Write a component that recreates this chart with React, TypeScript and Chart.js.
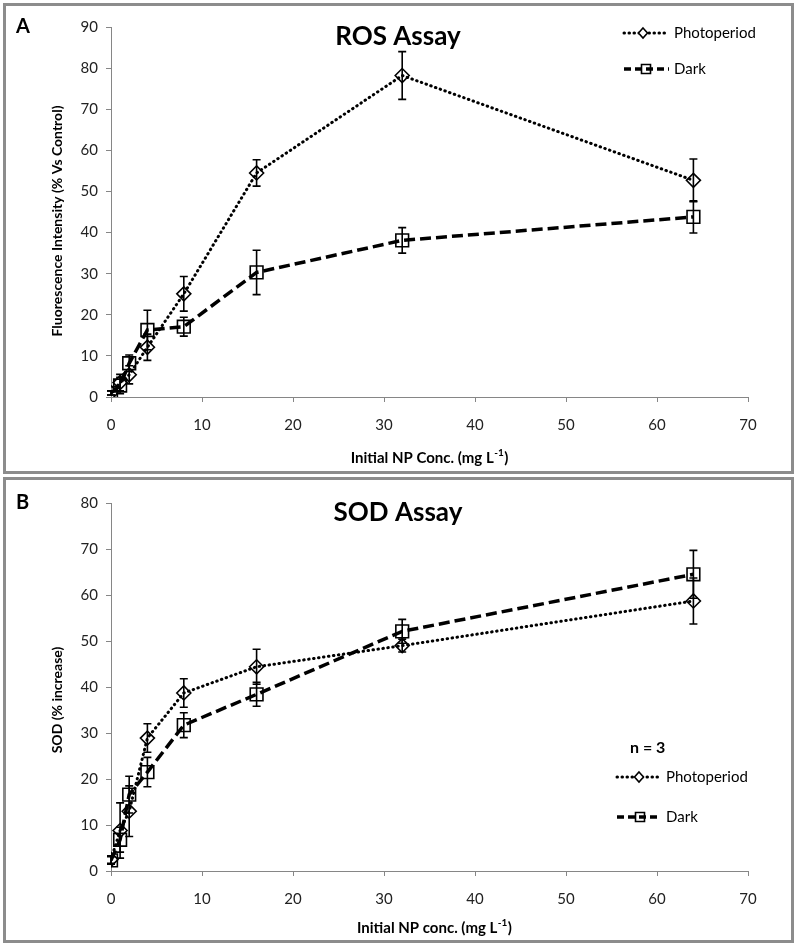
import React, { useEffect, useRef } from 'react';
import { Chart, registerables } from 'chart.js';

Chart.register(...registerables);

const FONT = 'Lato, "Open Sans", "DejaVu Sans", sans-serif';

// Concentrations (mg L-1)
const concentrations = [0, 1, 2, 4, 8, 16, 32, 64];

// Panel A – ROS assay (% vs control)
const rosPhoto = [1, 3.5, 5.4, 12.1, 25.1, 54.5, 78.2, 52.7];
const rosPhotoErr = [0.5, 2, 2.2, 3.2, 4.2, 3.2, 5.8, 5.2];
const rosDark = [1, 2.8, 8.2, 16.3, 17.1, 30.3, 38.1, 43.8];
const rosDarkErr = [0.5, 2, 2, 4.8, 2.3, 5.4, 3.1, 3.9];

// Panel B – SOD assay (% increase)
const sodPhoto = [2.5, 8.8, 13, 28.9, 38.7, 44.4, 49, 58.7];
const sodPhotoErr = [0.8, 6, 5.5, 3.1, 3.1, 3.8, 1.4, 5];
const sodDark = [2.3, 6.8, 16.6, 21.5, 31.7, 38.4, 52.1, 64.5];
const sodDarkErr = [0.8, 2.7, 4, 3.2, 2.7, 2.6, 2.6, 5.2];

const seriesLabels = ['Photoperiod', 'Dark'];

type LegendPos = { lineX1: number; lineX2: number; markerX: number; textX: number; y: number };

type PanelSpec = {
  letter: string;
  title: string;
  yTitle: string;
  xTitleMain: string;
  ymax: number;
  photo: number[];
  photoErr: number[];
  dark: number[];
  darkErr: number[];
  height: number;
  plotTop: number;
  letterY: number;
  titleBaseline: number;
  yTitleCenter: number;
  xTitleX: number;
  xTitleY: number;
  legend: LegendPos[];
  note?: { text: string; x: number; y: number };
};

const panels: PanelSpec[] = [
  {
    letter: 'A',
    title: 'ROS Assay',
    yTitle: 'Fluorescence Intensity (% Vs Control)',
    xTitleMain: 'Initial NP Conc. (mg L',
    ymax: 90,
    photo: rosPhoto,
    photoErr: rosPhotoErr,
    dark: rosDark,
    darkErr: rosDarkErr,
    height: 465,
    plotTop: 21,
    letterY: 21,
    titleBaseline: 39,
    yTitleCenter: 215,
    xTitleX: 423,
    xTitleY: 452,
    legend: [
      { lineX1: 618, lineX2: 662, markerX: 637, textX: 668, y: 27 },
      { lineX1: 618, lineX2: 663, markerX: 640, textX: 668, y: 63 },
    ],
  },
  {
    letter: 'B',
    title: 'SOD Assay',
    yTitle: 'SOD (% increase)',
    xTitleMain: 'Initial NP conc. (mg L',
    ymax: 80,
    photo: sodPhoto,
    photoErr: sodPhotoErr,
    dark: sodDark,
    darkErr: sodDarkErr,
    height: 460,
    plotTop: 23,
    letterY: 23,
    titleBaseline: 41,
    yTitleCenter: 220,
    xTitleX: 428,
    xTitleY: 448,
    legend: [
      { lineX1: 611, lineX2: 653, markerX: 633, textX: 660, y: 297 },
      { lineX1: 611, lineX2: 655, markerX: 634, textX: 660, y: 337 },
    ],
    note: { text: 'n = 3', x: 624, y: 268 },
  },
];

const CANVAS_W = 785;
const PLOT_LEFT = 105;
const PLOT_RIGHT = 742;
const PLOT_BOTTOM = 391;
const AXIS_COLOR = '#868686';
const BORDER_COLOR = '#8c8c8c';

function makeChart(canvas: HTMLCanvasElement, spec: PanelSpec) {
  const errorBars = {
    id: 'errorBars',
    afterDatasetsDraw(chart: any) {
      const ctx = chart.ctx as CanvasRenderingContext2D;
      const xs = chart.scales.x;
      const ys = chart.scales.y;
      const sets = [
        { v: spec.photo, e: spec.photoErr },
        { v: spec.dark, e: spec.darkErr },
      ];
      ctx.save();
      ctx.strokeStyle = '#000';
      ctx.lineWidth = 1.6;
      ctx.setLineDash([]);
      sets.forEach((s) => {
        s.v.forEach((v, i) => {
          const x = xs.getPixelForValue(concentrations[i]);
          const yT = ys.getPixelForValue(v + s.e[i]);
          const yB = ys.getPixelForValue(v - s.e[i]);
          ctx.beginPath();
          ctx.moveTo(x, yT);
          ctx.lineTo(x, yB);
          ctx.moveTo(x - 4, yT);
          ctx.lineTo(x + 4, yT);
          ctx.moveTo(x - 4, yB);
          ctx.lineTo(x + 4, yB);
          ctx.stroke();
        });
      });
      ctx.restore();
    },
  };

  const texts = {
    id: 'panelTexts',
    afterDraw(chart: any) {
      const ctx = chart.ctx as CanvasRenderingContext2D;
      ctx.save();
      ctx.fillStyle = '#000';
      // panel letter
      ctx.font = `bold 20px ${FONT}`;
      ctx.textAlign = 'left';
      ctx.textBaseline = 'middle';
      ctx.fillText(spec.letter, 10, spec.letterY);
      // chart title
      ctx.font = `bold 26px ${FONT}`;
      ctx.textAlign = 'center';
      ctx.textBaseline = 'alphabetic';
      ctx.fillText(spec.title, 392, spec.titleBaseline);
      // y title
      ctx.save();
      ctx.translate(51, spec.yTitleCenter);
      ctx.rotate(-Math.PI / 2);
      ctx.font = `bold 14px ${FONT}`;
      ctx.textAlign = 'center';
      ctx.textBaseline = 'middle';
      ctx.fillText(spec.yTitle, 0, 0);
      ctx.restore();
      // x title with superscript
      ctx.font = `bold 15px ${FONT}`;
      const mainW = ctx.measureText(spec.xTitleMain).width;
      ctx.font = `bold 10px ${FONT}`;
      const supW = ctx.measureText('-1').width;
      ctx.font = `bold 15px ${FONT}`;
      const tailW = ctx.measureText(')').width;
      const total = mainW + supW + tailW;
      const x0 = spec.xTitleX - total / 2;
      ctx.textAlign = 'left';
      ctx.textBaseline = 'middle';
      ctx.fillText(spec.xTitleMain, x0, spec.xTitleY);
      ctx.font = `bold 10px ${FONT}`;
      ctx.fillText('-1', x0 + mainW + 0.5, spec.xTitleY - 5);
      ctx.font = `bold 15px ${FONT}`;
      ctx.fillText(')', x0 + mainW + supW + 1, spec.xTitleY);
      // note
      if (spec.note) {
        ctx.font = `bold 16px ${FONT}`;
        ctx.fillText(spec.note.text, spec.note.x, spec.note.y);
      }
      // legend
      spec.legend.forEach((l, i) => {
        ctx.save();
        ctx.strokeStyle = '#000';
        if (i === 0) {
          ctx.lineWidth = 3;
          ctx.lineCap = 'round';
          ctx.setLineDash([0.5, 4.5]);
        } else {
          ctx.lineWidth = 3.5;
          ctx.lineCap = 'butt';
          ctx.setLineDash([7, 4]);
        }
        ctx.beginPath();
        ctx.moveTo(l.lineX1, l.y);
        ctx.lineTo(l.lineX2, l.y);
        ctx.stroke();
        ctx.setLineDash([]);
        ctx.lineWidth = 1.6;
        ctx.fillStyle = '#fff';
        if (i === 0) {
          ctx.beginPath();
          ctx.moveTo(l.markerX, l.y - 5);
          ctx.lineTo(l.markerX + 4.5, l.y);
          ctx.lineTo(l.markerX, l.y + 5);
          ctx.lineTo(l.markerX - 4.5, l.y);
          ctx.closePath();
          ctx.fill();
          ctx.stroke();
        } else {
          ctx.beginPath();
          ctx.rect(l.markerX - 4.5, l.y - 4.5, 9, 9);
          ctx.stroke();
        }
        ctx.restore();
        ctx.font = `15px ${FONT}`;
        ctx.fillStyle = '#000';
        ctx.textAlign = 'left';
        ctx.textBaseline = 'middle';
        ctx.fillText(seriesLabels[i], l.textX, l.y);
      });
      ctx.restore();
    },
  };

  return new Chart(canvas, {
    type: 'line',
    data: {
      datasets: [
        {
          label: seriesLabels[0],
          data: spec.photo.map((y, i) => ({ x: concentrations[i], y })),
          borderColor: '#000',
          borderWidth: 3,
          borderDash: [0.5, 4.5],
          borderCapStyle: 'round',
          pointStyle: 'rectRot',
          pointRadius: 7,
          pointBorderWidth: 1.6,
          pointBorderColor: '#000',
          pointBackgroundColor: 'rgba(255,255,255,0)',
          tension: 0,
          fill: false,
        },
        {
          label: seriesLabels[1],
          data: spec.dark.map((y, i) => ({ x: concentrations[i], y })),
          borderColor: '#000',
          borderWidth: 3.5,
          borderDash: [11, 5],
          borderCapStyle: 'butt',
          pointStyle: 'rect',
          pointRadius: 9,
          pointBorderWidth: 1.6,
          pointBorderColor: '#000',
          pointBackgroundColor: 'rgba(255,255,255,0)',
          tension: 0,
          fill: false,
        },
      ] as any,
    },
    options: {
      animation: false,
      responsive: false,
      events: [],
      layout: {
        padding: { left: 0, top: spec.plotTop, right: CANVAS_W - PLOT_RIGHT, bottom: 0 },
      },
      plugins: {
        legend: { display: false },
        tooltip: { enabled: false },
        title: { display: false },
      },
      scales: {
        x: {
          type: 'linear',
          min: 0,
          max: 70,
          ticks: {
            stepSize: 10,
            font: { family: FONT, size: 15 },
            color: '#222',
            padding: 14,
            maxRotation: 0,
          },
          grid: { drawOnChartArea: false, drawTicks: true, tickLength: 5, color: AXIS_COLOR },
          border: { color: AXIS_COLOR, width: 1 },
          afterFit: (s: any) => {
            s.height = spec.height - PLOT_BOTTOM;
          },
        },
        y: {
          type: 'linear',
          min: 0,
          max: spec.ymax,
          ticks: {
            stepSize: 10,
            font: { family: FONT, size: 15 },
            color: '#222',
            padding: 8,
          },
          grid: { drawOnChartArea: false, drawTicks: true, tickLength: 5, color: AXIS_COLOR },
          border: { color: AXIS_COLOR, width: 1 },
          afterFit: (s: any) => {
            s.width = PLOT_LEFT;
          },
        },
      },
    } as any,
    plugins: [errorBars, texts],
  });
}

function Panel({ spec, top }: { spec: PanelSpec; top: number }) {
  const ref = useRef<HTMLCanvasElement | null>(null);
  useEffect(() => {
    if (!ref.current) return;
    const chart = makeChart(ref.current, spec);
    return () => chart.destroy();
  }, [spec]);
  return (
    <div
      style={{
        position: 'absolute',
        left: 3,
        top,
        width: CANVAS_W + 6,
        height: spec.height + 6,
        boxSizing: 'border-box',
        borderWidth: 3,
        borderStyle: 'solid',
        borderColor: BORDER_COLOR,
        background: '#fff',
        overflow: 'hidden',
      }}
    >
      <canvas
        ref={ref}
        width={CANVAS_W}
        height={spec.height}
        style={{ display: 'block', width: CANVAS_W, height: spec.height }}
      />
    </div>
  );
}

export default function App() {
  useEffect(() => {
    document.body.style.margin = '0';
    document.body.style.background = '#fff';
  }, []);
  return (
    <div
      style={{
        position: 'fixed',
        left: 0,
        top: 0,
        width: 798,
        height: 946,
        background: '#fff',
        overflow: 'hidden',
      }}
    >
      <Panel spec={panels[0]} top={3} />
      <Panel spec={panels[1]} top={477} />
    </div>
  );
}
